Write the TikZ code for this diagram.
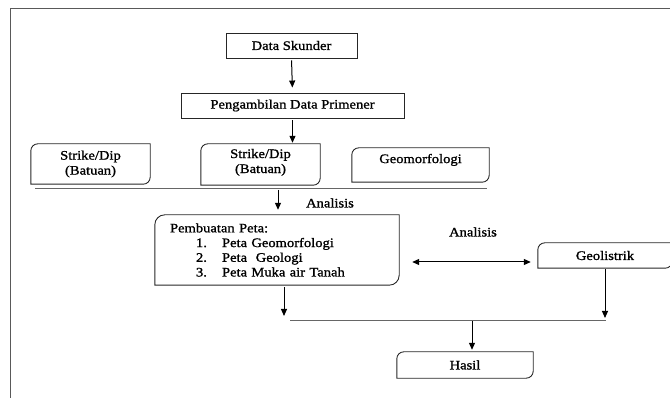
\documentclass[tikz,border=0pt]{standalone}
\usepackage{fontspec}
\setmainfont{Liberation Serif}[FakeStretch=1.12,FakeBold=1.2]
\usetikzlibrary{arrows.meta}
\newcommand\rcbox[2]{\draw[boxline] ([yshift=-#2]#1.north west) arc[start angle=180,end angle=90,radius=#2] -- (#1.north east) -- ([yshift=#2]#1.south east) arc[start angle=0,end angle=-90,radius=#2] -- (#1.south west) -- cycle;}
\begin{document}
\begin{tikzpicture}[x=1pt,y=-1pt,
  txt/.style={font=\fontsize{13}{15}\selectfont},
  boxline/.style={line width=0.9pt, draw=black!85},
  sq/.style={draw=black!85, line width=0.9pt, inner sep=0pt, align=center, txt},
  rbox/.style={inner sep=0pt, align=center, txt},
  lbl/.style={inner sep=0pt, txt},
  arr/.style={line width=1pt, -{Triangle[length=7pt,width=6pt]}},
  darr/.style={line width=1pt, {Triangle[length=7pt,width=6pt]}-{Triangle[length=7pt,width=6pt]}},
  ln/.style={line width=0.9pt, draw=black!60}]
\useasboundingbox (0,0) rectangle (670,398);
\draw[line width=0.9pt, black!65] (10,398) -- (10,8) -- (670,8);

\node[sq, minimum width=131pt, minimum height=25pt] (ds) at (291.5,45.5) {Data Skunder};
\node[sq, minimum width=223pt, minimum height=25pt] (pdp) at (292.5,105.5) {Pengambilan Data Primener};
\node[rbox, minimum width=119pt, minimum height=40pt] (sd1) at (90.5,164) {Strike/Dip\\(Batuan)};
\node[rbox, minimum width=119pt, minimum height=41pt, text depth=7pt] (sd2) at (260.5,164.5) {Strike/Dip\\(Batuan)};
\node[rbox, minimum width=137pt, minimum height=34pt, text depth=13pt] (geo) at (420.5,165) {Geomorfologi};
\rcbox{sd1}{7pt}
\rcbox{sd2}{7pt}
\rcbox{geo}{7pt}

\coordinate (h1a) at (35,188);
\coordinate (h1b) at (487,188);
\draw[ln] (h1a) -- (h1b);

\node[inner xsep=15pt, inner ysep=0pt, minimum height=70pt, text width=214pt, align=left,
  font=\fontsize{13}{14.7}\selectfont] (pp) at (277,250)
  {Pembuatan Peta:\\
   \hspace*{26pt}\makebox[26pt][l]{1.}Peta Geomorfologi\\
   \hspace*{26pt}\makebox[26pt][l]{2.}Peta\ \ Geologi\\
   \hspace*{26pt}\makebox[26pt][l]{3.}Peta Muka air Tanah};
\rcbox{pp}{10pt}

\node[rbox, minimum width=134pt, minimum height=25pt] (gl) at (605,255.5) {Geolistrik};
\rcbox{gl}{7pt}
\node[rbox, minimum width=136pt, minimum height=26pt] (hs) at (465,365) {Hasil};
\rcbox{hs}{7pt}

\node[lbl] (an1) at (330,203) {Analisis};
\node[lbl] (an2) at (473,232) {Analisis};

\draw[arr, shorten <=2pt, shorten >=5pt] (ds.south) -- (pdp.north);
\draw[arr, shorten <=2pt, shorten >=1pt] (pdp.south) -- (pdp.south |- sd2.north);
\coordinate (a1) at (278,188);
\draw[arr, shorten <=2pt, shorten >=5pt] (a1) -- (a1 |- pp.north);

\coordinate (dl) at ([xshift=13pt,yshift=-12pt]pp.east);
\coordinate (dr) at (dl -| gl.west);
\draw[darr, shorten >=7pt] (dl) -- (dr);

\coordinate (m1) at (290,320);
\coordinate (m2) at (606,320);
\draw[ln] (m1) -- (m2);
\coordinate (p1) at ([xshift=7pt]pp.south);
\draw[arr, shorten <=2pt, shorten >=4pt] (p1) -- (p1 |- m1);
\draw[arr, shorten <=1pt, shorten >=2pt] (gl.south) -- (gl.south |- m2);
\coordinate (m3) at (472,320);
\draw[arr, shorten <=1pt, shorten >=2pt] (m3) -- (m3 |- hs.north);
\end{tikzpicture}
\end{document}
